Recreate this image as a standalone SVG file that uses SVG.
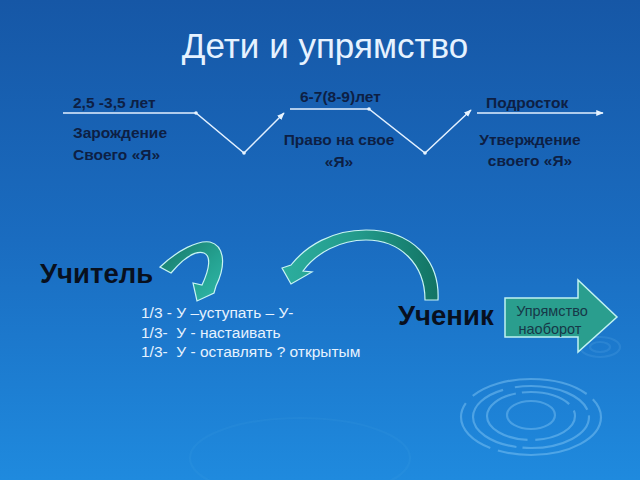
<svg xmlns="http://www.w3.org/2000/svg" width="640" height="480" viewBox="0 0 640 480">
<defs>
<linearGradient id="bg" x1="0" y1="0" x2="0" y2="1">
<stop offset="0" stop-color="#1657a6"/>
<stop offset="0.5" stop-color="#1a6cc0"/>
<stop offset="1" stop-color="#1f8ade"/>
</linearGradient>
<linearGradient id="gl" x1="0" y1="0" x2="1" y2="1">
<stop offset="0" stop-color="#167566"/>
<stop offset="0.6" stop-color="#25a392"/>
<stop offset="1" stop-color="#30b8a8"/>
</linearGradient>
<linearGradient id="gr" x1="0" y1="0" x2="1" y2="0">
<stop offset="0" stop-color="#2cae9e"/>
<stop offset="0.5" stop-color="#22998a"/>
<stop offset="1" stop-color="#127363"/>
</linearGradient>
<marker id="ah" viewBox="0 0 10 10" refX="9" refY="5" markerWidth="5" markerHeight="5" orient="auto">
<path d="M0,1 L10,5 L0,9 z" fill="#e8f4ff"/>
</marker>
<marker id="dot" viewBox="0 0 10 10" refX="5" refY="5" markerWidth="3" markerHeight="3">
<circle cx="5" cy="5" r="4" fill="#e8f4ff"/>
</marker>
<style>
.dk{font-family:"Liberation Sans",Arial,sans-serif;font-weight:bold;font-size:15.5px;fill:#0d1f44}
.big{font-family:"Liberation Sans",Arial,sans-serif;font-weight:bold;font-size:27.5px;fill:#08101e}
.lt{font-family:"Liberation Sans",Arial,sans-serif;font-size:15.5px;fill:#e6f2ff;white-space:pre}
.ln{fill:none;stroke:#e2f0ff;stroke-width:1.5}
.rp{fill:none;stroke:#7ec4f4;stroke-width:2.2}
.cv{stroke:#c8f4f4;stroke-width:1.2}
</style>
</defs>
<rect width="640" height="480" fill="url(#bg)"/>
<g id="ripples">
<ellipse class="rp" style="stroke-opacity:0.5" cx="531" cy="417" rx="70" ry="38" stroke-dasharray="120 8 60 10"/>
<ellipse class="rp" style="stroke-opacity:0.5" cx="531" cy="417" rx="58" ry="31" stroke-dasharray="80 6 100 12"/>
<ellipse class="rp" style="stroke-opacity:0.5" cx="531" cy="416" rx="44" ry="24" stroke-dasharray="50 8 90 6"/>
<ellipse class="rp" style="stroke-opacity:0.45" cx="531" cy="415" rx="24" ry="14"/>
<ellipse class="rp" style="stroke-opacity:0.15" cx="600" cy="347" rx="20" ry="10"/>
<ellipse class="rp" style="stroke-opacity:0.15" cx="600" cy="347" rx="10" ry="5"/>
<ellipse class="rp" style="stroke-opacity:0.06" cx="300" cy="458" rx="110" ry="40"/>
</g>
<text id="title" x="325" y="58" text-anchor="middle" font-family="'Liberation Sans',Arial,sans-serif" font-size="35" fill="#e6f2ff">Дети и упрямство</text>
<g id="connectors">
<polyline class="ln" points="63,113 196,113 244,153 284,113" marker-mid="url(#dot)" marker-end="url(#ah)"/>
<polyline class="ln" points="290,109 369,109 425,153 471,110" marker-mid="url(#dot)" marker-end="url(#ah)"/>
<line class="ln" x1="477" y1="113" x2="603" y2="113" marker-end="url(#ah)"/>
</g>
<g id="stage1">
<text class="dk" x="73" y="108">2,5 -3,5 лет</text>
<text class="dk" x="73" y="138">Зарождение</text>
<text class="dk" x="73" y="160">Своего «Я»</text>
</g>
<g id="stage2">
<text class="dk" x="300" y="102">6-7(8-9)лет</text>
<text class="dk" x="339" y="145" text-anchor="middle">Право на свое</text>
<text class="dk" x="339" y="167" text-anchor="middle">«Я»</text>
</g>
<g id="stage3">
<text class="dk" x="486" y="108">Подросток</text>
<text class="dk" x="530" y="145" text-anchor="middle">Утверждение</text>
<text class="dk" x="530" y="166" text-anchor="middle">своего «Я»</text>
</g>
<g id="teacher">
<text class="big" x="40" y="283">Учитель</text>
</g>
<g id="pupil">
<text class="big" x="398" y="325">Ученик</text>
</g>
<g id="arrow-left">
<path class="cv" fill="url(#gl)" d="M160,267 C178,250 198,240 210,242 C225,246 226,266 216,286 L214,293 L197,301 L193,283 L202,285 C210,268 211,256 204,253 C194,250 182,260 171,273 Z"/>
</g>
<g id="arrow-right">
<path class="cv" fill="url(#gr)" d="M438,300 C440,260 412,230 366,230 C332,230 306,246 291,265 L282,268 L291,284 L312,272 L303,271 C316,253 340,240 366,240 C400,240 425,264 425,300 Z"/>
</g>
<g id="list">
<text class="lt" x="141" y="318" xml:space="preserve">1/3 - У –уступать – У-</text>
<text class="lt" x="141" y="338" xml:space="preserve">1/3-  У - настаивать</text>
<text class="lt" x="141" y="357" xml:space="preserve">1/3-  У - оставлять ? открытым</text>
</g>
<g id="reverse">
<path d="M505,298 L578,298 L578,280 L617,317 L578,352 L578,337 L505,337 Z" fill="#2a9e8e" stroke="#c0f2f2" stroke-width="1.5"/>
<text x="552" y="316" text-anchor="middle" font-family="'Liberation Sans',Arial,sans-serif" font-size="14.5" fill="#173848">Упрямство</text>
<text x="550" y="334" text-anchor="middle" font-family="'Liberation Sans',Arial,sans-serif" font-size="14.5" fill="#173848">наоборот</text>
</g>
</svg>
